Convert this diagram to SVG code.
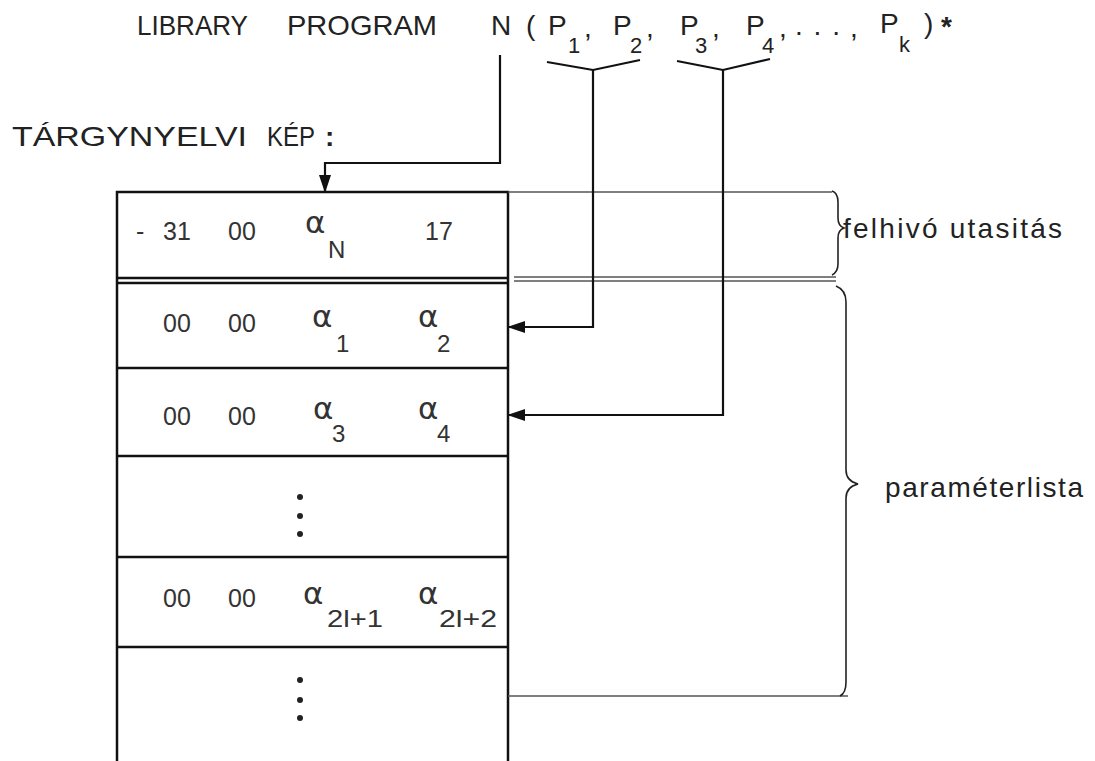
<svg xmlns="http://www.w3.org/2000/svg" width="1095" height="761" viewBox="0 0 1095 761">
<style>
.t{font-family:"Liberation Sans",Arial,sans-serif;font-size:28px;fill:#222}
.s{font-family:"Liberation Sans",Arial,sans-serif;font-size:22px;fill:#222}
.c{font-family:"Liberation Sans",Arial,sans-serif;font-size:25px;fill:#333}
.a{font-family:"DejaVu Sans",sans-serif;font-size:31px;fill:#333}
.cs{font-family:"Liberation Sans",Arial,sans-serif;font-size:24px;fill:#333}
.box{fill:none;stroke:#111;stroke-width:2.5}
.thin{fill:none;stroke:#555;stroke-width:1.3}
.br{fill:none;stroke:#222;stroke-width:1.6}
.con{fill:none;stroke:#111;stroke-width:2.2}
</style>
<defs>
<marker id="ah" viewBox="0 0 18 12" refX="17" refY="6" markerWidth="18" markerHeight="12" markerUnits="userSpaceOnUse" orient="auto">
<path d="M0,0 L18,6 L0,12 Z" fill="#111"/>
</marker>
</defs>
<rect width="1095" height="761" fill="#fff"/>

<g id="title">
<text class="t" x="137" y="35" textLength="111" lengthAdjust="spacingAndGlyphs">LIBRARY</text>
<text class="t" x="287" y="35" textLength="150" lengthAdjust="spacingAndGlyphs">PROGRAM</text>
<text class="t" x="491" y="35">N</text>
<text class="t" x="526" y="35">(</text>
<text class="t" x="548" y="35">P</text><text class="s" x="568" y="53">1</text><text class="t" x="584" y="37">,</text>
<text class="t" x="613" y="35">P</text><text class="s" x="630" y="53">2</text><text class="t" x="646" y="37">,</text>
<text class="t" x="680" y="35">P</text><text class="s" x="695" y="53">3</text><text class="t" x="712" y="37">,</text>
<text class="t" x="746" y="35">P</text><text class="s" x="762" y="53">4</text><text class="t" x="779" y="37">,</text>
<text class="t" x="795" y="35" textLength="45" lengthAdjust="spacing">...</text><text class="t" x="850" y="37">,</text>
<text class="t" x="880" y="33">P</text><text class="s" x="899" y="52">k</text>
<text class="t" x="924" y="33">)</text><text class="t" x="941" y="36" font-weight="bold">*</text>
</g>

<g id="heading">
<text class="t" x="12" y="146" textLength="235" lengthAdjust="spacingAndGlyphs">TÁRGYNYELVI</text>
<text class="t" x="267" y="146" textLength="48" lengthAdjust="spacingAndGlyphs">KÉP</text>
<text class="t" x="325" y="146" font-weight="bold">:</text>
</g>

<g id="memory">
<path class="box" d="M117,761 V192 H508 V761"/>
<line class="box" x1="117" y1="278" x2="508" y2="278"/>
<line class="box" x1="117" y1="283" x2="508" y2="283"/>
<line class="box" x1="117" y1="368" x2="508" y2="368"/>
<line class="box" x1="117" y1="456" x2="508" y2="456"/>
<line class="box" x1="117" y1="557" x2="508" y2="557"/>
<line class="box" x1="117" y1="647" x2="508" y2="647"/>
</g>

<g id="row-call">
<text class="c" x="136" y="240">-</text>
<text class="c" x="163" y="240">31</text>
<text class="c" x="228" y="240">00</text>
<text class="a" x="305" y="233">α</text><text class="cs" x="328" y="258">N</text>
<text class="c" x="425" y="240">17</text>
</g>

<g id="row-p1">
<text class="c" x="163" y="332">00</text>
<text class="c" x="228" y="332">00</text>
<text class="a" x="312" y="327">α</text><text class="cs" x="336" y="352">1</text>
<text class="a" x="418" y="327">α</text><text class="cs" x="437" y="352">2</text>
</g>

<g id="row-p3">
<text class="c" x="163" y="425">00</text>
<text class="c" x="228" y="425">00</text>
<text class="a" x="313" y="419">α</text><text class="cs" x="332" y="442">3</text>
<text class="a" x="418" y="419">α</text><text class="cs" x="437" y="442">4</text>
</g>

<g id="row-dots1">
<circle cx="300" cy="497" r="3" fill="#222"/>
<circle cx="300" cy="516" r="3" fill="#222"/>
<circle cx="300" cy="534" r="3" fill="#222"/>
</g>

<g id="row-pl">
<text class="c" x="163" y="607">00</text>
<text class="c" x="228" y="607">00</text>
<text class="a" x="303" y="604">α</text><text class="cs" x="327" y="627" textLength="56" lengthAdjust="spacingAndGlyphs">2l+1</text>
<text class="a" x="418" y="604">α</text><text class="cs" x="439" y="627" textLength="58" lengthAdjust="spacingAndGlyphs">2l+2</text>
</g>

<g id="row-dots2">
<circle cx="300" cy="680" r="3" fill="#222"/>
<circle cx="300" cy="700" r="3" fill="#222"/>
<circle cx="300" cy="718" r="3" fill="#222"/>
</g>

<g id="annotations">
<line class="thin" x1="508" y1="192" x2="832" y2="192"/>
<line class="thin" x1="514" y1="277" x2="836" y2="277"/>
<line class="thin" x1="514" y1="281" x2="836" y2="281"/>
<line class="thin" x1="508" y1="696" x2="848" y2="696"/>
<path class="br" d="M832,191 Q838,193 838,202 L838,218 Q838,226 844,228 Q838,230 838,238 L838,264 Q838,272 832,275"/>
<path class="br" d="M836,286 Q846,290 846,302 L846,470 Q846,481 858,484 Q846,487 846,498 L846,682 Q846,693 840,696"/>
<text class="t" x="843" y="238" textLength="219" lengthAdjust="spacing">felhivó utasitás</text>
<text class="t" x="885" y="497" textLength="198" lengthAdjust="spacing">paraméterlista</text>
</g>

<g id="connectors">
<path class="con" d="M500,55 V163 H325 V192" marker-end="url(#ah)"/>
<path class="con" d="M547,62 L593,70 L640,60"/>
<path class="con" d="M593,70 V327 H508" marker-end="url(#ah)"/>
<path class="con" d="M677,61 L723,70 L770,59"/>
<path class="con" d="M723,70 V415 H508" marker-end="url(#ah)"/>
</g>
</svg>
